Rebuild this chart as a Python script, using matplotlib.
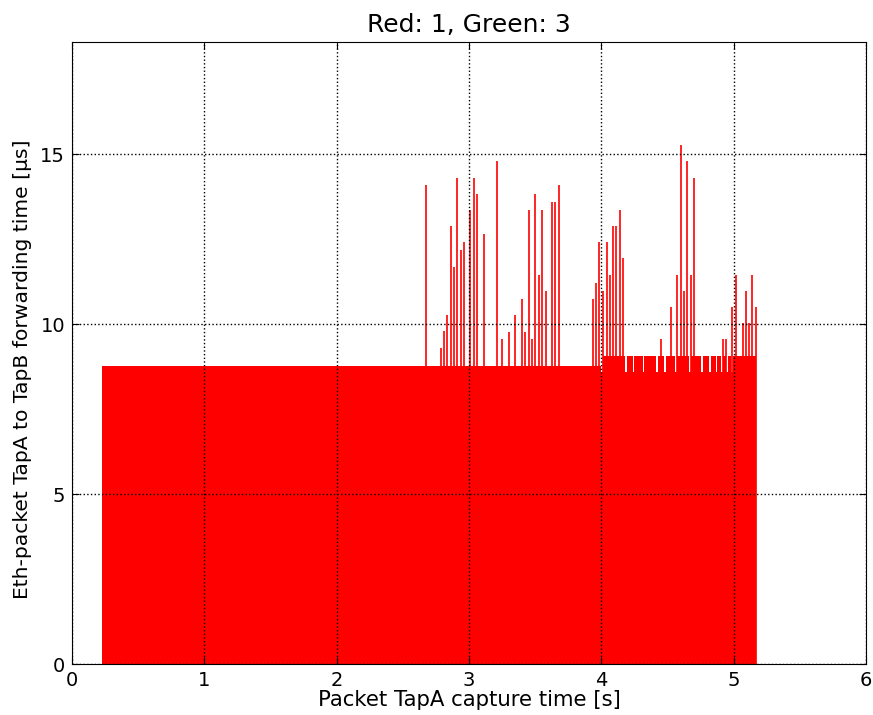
import matplotlib
matplotlib.use('Agg')
import matplotlib.pyplot as plt

# spike packets: capture time [s] and forwarding time [us]
spike_t = [2.678, 2.787, 2.810, 2.835, 2.862, 2.885, 2.912, 2.938, 2.963, 3.011,
           3.036, 3.064, 3.114, 3.215, 3.250, 3.300, 3.348, 3.399, 3.424, 3.452,
           3.477, 3.502, 3.527, 3.552, 3.578, 3.628, 3.653, 3.679,
           3.935, 3.961, 3.986, 4.014, 4.039, 4.064, 4.089, 4.114, 4.140, 4.165,
           4.452, 4.528, 4.575, 4.601, 4.626, 4.651, 4.676, 4.701,
           4.918, 4.943, 4.989, 5.014, 5.067, 5.092, 5.117, 5.142, 5.168]
spike_v = [14.09, 9.31, 9.79, 10.26, 12.88, 11.69, 14.31, 12.18, 12.41, 13.35,
           14.31, 13.84, 12.66, 14.79, 9.55, 9.78, 10.26, 10.74, 9.78, 13.35,
           9.55, 13.84, 11.45, 13.35, 10.98, 13.60, 13.60, 14.09,
           10.74, 11.21, 12.41, 10.98, 12.41, 11.45, 12.88, 12.88, 13.35, 11.93,
           9.55, 10.49, 11.45, 15.27, 10.98, 14.79, 11.45, 14.31,
           9.55, 9.55, 10.49, 11.45, 10.02, 10.98, 10.02, 11.45, 10.49]

# bulk of the packets (dense band)
band1_start, band1_end, band1_level = 0.227, 4.00, 8.78
band2_start, band2_end, band2_floor = 4.00, 5.17, 8.60
band2_level = 9.05
# sub-ranges of the second band that sit at the higher level
band2_hi = [(4.016, 4.180), (4.192, 4.238), (4.250, 4.313), (4.325, 4.414),
            (4.426, 4.477), (4.489, 4.560), (4.572, 4.666), (4.678, 4.755),
            (4.767, 4.817), (4.829, 4.863), (4.875, 4.906), (4.918, 4.943),
            (4.955, 4.981), (4.993, 5.170)]

fig = plt.figure(figsize=(8.73, 7.15), dpi=100)
ax = fig.add_axes([0.0825, 0.0713, 0.9095, 0.870])

red = '#ff0000'
ax.bar(band1_start, band1_level, width=band1_end - band1_start, align='edge',
       color=red, linewidth=0)
ax.bar(band2_start, band2_floor, width=band2_end - band2_start, align='edge',
       color=red, linewidth=0)
for a, b in band2_hi:
    ax.bar(a, band2_level, width=b - a, align='edge', color=red, linewidth=0)
ax.vlines(spike_t, 0, spike_v, color=red, linewidth=1.2)

ax.set_xlim(0, 6)
ax.set_ylim(0, 18.3)
ax.set_xticks([0, 1, 2, 3, 4, 5, 6])
ax.set_yticks([0, 5, 10, 15])
ax.set_axisbelow(False)
ax.grid(True, color='black', linestyle=':', linewidth=1)
for gl in ax.get_xgridlines() + ax.get_ygridlines():
    gl.set_zorder(5)
ax.tick_params(direction='in', top=True, right=True, labelsize=14, length=5, pad=5)

ax.set_title('Red: 1, Green: 3', fontsize=18, pad=7)
ax.set_xlabel('Packet TapA capture time [s]', fontsize=15.3, labelpad=0)
ax.set_ylabel('Eth-packet TapA to TapB forwarding time [µs]', fontsize=14.6)
ax.yaxis.set_label_coords(-0.050, 0.474)

fig.savefig('out.png', dpi=100, facecolor='white')
